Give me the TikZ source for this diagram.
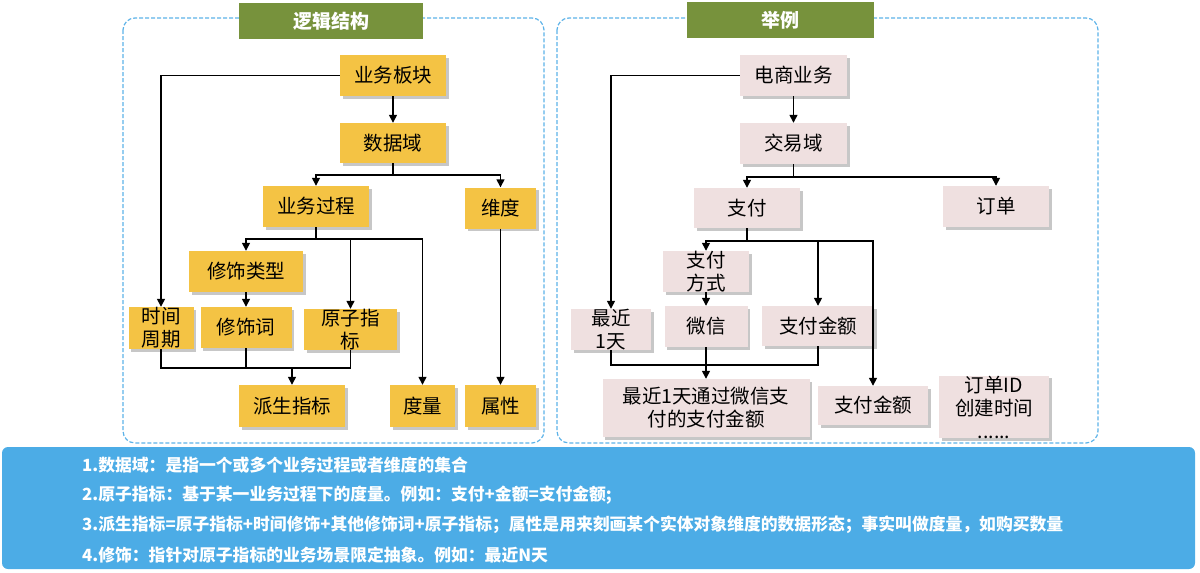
\documentclass[tikz,border=0pt]{standalone}
\usepackage{fontspec}
\setmainfont{Noto Sans CJK SC}
\usetikzlibrary{arrows.meta,shadows}
\definecolor{orangebox}{HTML}{F4C344}
\definecolor{pinkbox}{HTML}{EFE0E0}
\definecolor{titlegreen}{HTML}{77923C}
\definecolor{dashblue}{HTML}{5CB2E8}
\definecolor{panelblue}{HTML}{4CACE6}
\begin{document}
\begin{tikzpicture}[x=1pt,y=-1pt,
  sz/.style 2 args={minimum width=#1pt,minimum height=#2pt},
  base/.style={inner sep=0pt, align=center, text=black,
    font=\fontsize{19.5}{23}\selectfont,
    drop shadow={shadow xshift=2.5pt, shadow yshift=-2.5pt, fill=black, opacity=0.22}},
  obox/.style={base, fill=orangebox},
  pbox/.style={base, fill=pinkbox},
  titlebox/.style={inner sep=0pt, fill=titlegreen, text=white,
    font=\fontsize{19}{22}\selectfont\bfseries},
  frame/.style={draw=dashblue, line width=1.2pt, dash pattern=on 4pt off 2pt, rounded corners=12pt},
  conn/.style={draw=black, line width=1.4pt},
  arr/.style={conn, -{Triangle[width=8pt,length=8pt]}},
  note/.style={anchor=west, inner sep=0pt, text=white, font=\fontsize{16.8}{20}\selectfont\bfseries}
]
\useasboundingbox (0,0) rectangle (1200,573);

% frames
\draw[frame] (123,18) rectangle (544,443);
\draw[frame] (557,18) rectangle (1098,443);
\node[titlebox, sz={184}{36}] (t1) at (331,21) {逻辑结构};
\node[titlebox, sz={187}{36}] (t2) at (780.5,20) {举例};

% left nodes
\node[obox, sz={106}{41}] (ywbk) at (393,75.5) {业务板块};
\node[obox, sz={106}{40}] (sjy) at (393,143) {数据域};
\node[obox, sz={106}{41}] (ywgc) at (316,206.5) {业务过程};
\node[obox, sz={71}{41}] (wd) at (500.5,208) {维度};
\node[obox, sz={114}{41}] (xslx) at (246,271.5) {修饰类型};
\node[obox, sz={65}{42}] (sjzq) at (161,328) {时间\\周期};
\node[obox, sz={91}{41}] (xsc) at (246,327.5) {修饰词};
\node[obox, sz={93}{41}] (yzzb) at (350.5,329.5) {原子指\\标};
\node[obox, sz={106}{42}] (pszb) at (292,406) {派生指标};
\node[obox, sz={65}{42}] (dl) at (422.5,406) {度量};
\node[obox, sz={71}{42}] (sx) at (500.5,406) {属性};

% left connectors
\draw[arr] (ywbk.west) -| (sjzq.north);
\draw[arr] (ywbk) -- (sjy);
\coordinate (j1) at (393,175);
\draw[conn] (sjy.south) -- (j1);
\draw[arr] (j1) -| (ywgc.north);
\draw[arr] (j1) -| (wd.north);
\coordinate (j2) at (316,239);
\draw[conn] (ywgc.south) -- (j2);
\draw[arr] (j2) -| (xslx.north);
\draw[arr] (j2) -| (yzzb.north);
\draw[arr] (j2) -| (dl.north);
\draw[arr] (xslx) -- (xsc);
\draw[arr] (wd) -- (sx);
\coordinate (j3) at (292,368);
\draw[conn] (sjzq.south) |- (j3);
\draw[conn] (yzzb.south) |- (j3);
\draw[conn] (xsc.south) -- (xsc.south |- j3);
\draw[arr] (j3) -- (pszb.north);

% right nodes
\node[pbox, sz={107}{41}] (dsyw) at (793.5,75.5) {电商业务};
\node[pbox, sz={107}{41}] (jyy) at (793.5,143.5) {交易域};
\node[pbox, sz={106}{40}] (zf) at (747,208) {支付};
\node[pbox, sz={106}{41}] (dd) at (996,206.5) {订单};
\node[pbox, sz={86}{41}] (zffs) at (706,271.5) {支付\\方式};
\node[pbox, sz={80}{41}] (zj) at (611,329.5) {最近\\1天};
\node[pbox, sz={83}{41}] (wx) at (706,326.5) {微信};
\node[pbox, sz={112}{40}] (zfje1) at (818,326) {支付金额};
\node[pbox, sz={207}{58}] (big) at (706,408) {最近1天通过微信支\\付的支付金额};
\node[pbox, sz={110}{39}] (zfje2) at (873,405.5) {支付金额};
\node[pbox, sz={110}{54}] (ddid) at (994,407) {订单ID\\创建时间\\......};

% right connectors
\draw[arr] (dsyw.west) -| (zj.north);
\draw[arr] (dsyw) -- (jyy);
\coordinate (r1) at (793.5,177);
\draw[conn] (jyy.south) -- (r1);
\draw[arr] (r1) -| (zf.north);
\draw[arr] (r1) -| (dd.north);
\coordinate (r2) at (747,241);
\draw[conn] (zf.south) -- (r2);
\draw[arr] (r2) -| (zffs.north);
\draw[arr] (r2) -| (zfje1.north);
\draw[arr] (r2) -| (zfje2.north);
\draw[arr] (zffs) -- (wx);
\coordinate (r3) at (706,365);
\draw[conn] (zj.south) |- (r3);
\draw[conn] (zfje1.south) |- (r3);
\draw[conn] (wx.south) -- (r3);
\draw[arr] (r3) -- (big.north);

% bottom panel
\node[fill=panelblue, rounded corners=6pt, inner sep=0pt, minimum width=1193pt, minimum height=122pt] (panel) at (598.5,508) {};
\node[note] (n1) at (82,465) {1.数据域：是指一个或多个业务过程或者维度的集合};
\node[note] (n2) at (82,495) {2.原子指标：基于某一业务过程下的度量。例如：支付+金额=支付金额;};
\node[note] (n3) at (82,525) {3.派生指标=原子指标+时间修饰+其他修饰词+原子指标；属性是用来刻画某个实体对象维度的数据形态；事实叫做度量，如购买数量};
\node[note] (n4) at (82,555) {4.修饰：指针对原子指标的业务场景限定抽象。例如：最近N天};
\end{tikzpicture}
\end{document}
